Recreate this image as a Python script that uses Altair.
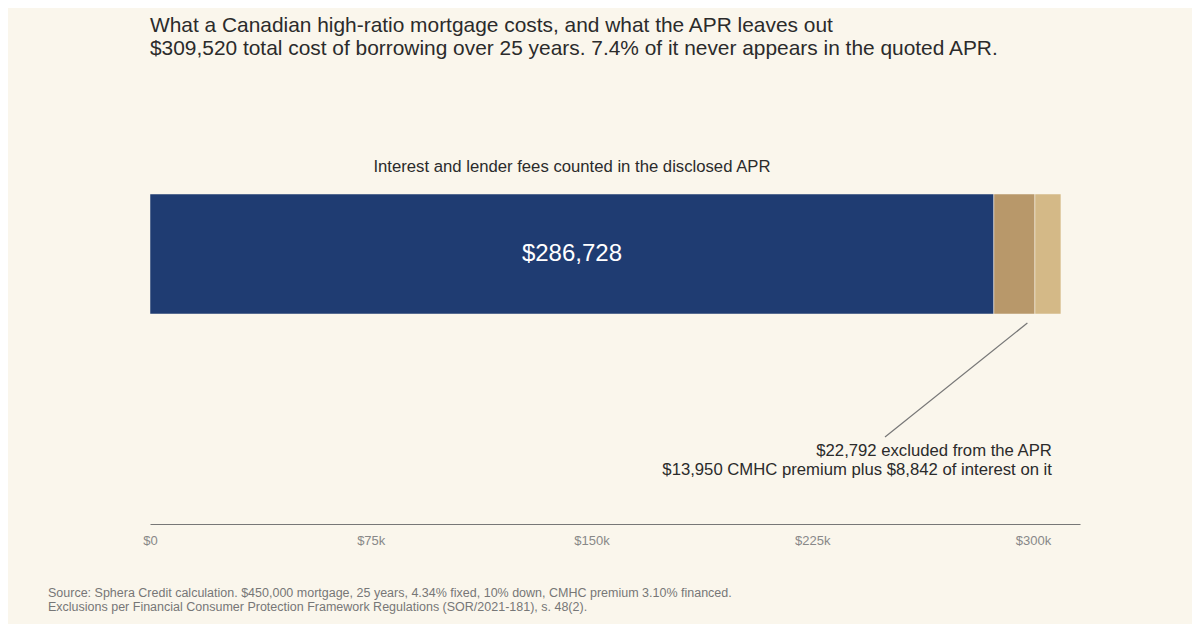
import pandas as pd
import altair as alt

# values
segments = ["Interest and lender fees", "CMHC premium", "Interest on the premium"]
amounts = [286728, 13950, 8842]
seg_colors = ["#1f3c72", "#b8986a", "#d4b987"]
tick_values = [0, 75000, 150000, 225000, 300000]

title_lines = [
    "What a Canadian high-ratio mortgage costs, and what the APR leaves out",
    "$309,520 total cost of borrowing over 25 years. 7.4% of it never appears in the quoted APR.",
]
apr_label = "Interest and lender fees counted in the disclosed APR"
excluded_lines = [
    "$22,792 excluded from the APR",
    "$13,950 CMHC premium plus $8,842 of interest on it",
]
source_lines = [
    "Source: Sphera Credit calculation. $450,000 mortgage, 25 years, 4.34% fixed, 10% down, CMHC premium 3.10% financed.",
    "Exclusions per Financial Consumer Protection Framework Regulations (SOR/2021-181), s. 48(2).",
]

BG = "#faf6ec"
INK = "#2b2b2b"
GREY = "#777777"

total = sum(amounts)
excluded_mid = amounts[0] + (amounts[1] + amounts[2]) / 2

bars = pd.DataFrame({
    "row": "cost",
    "segment": segments,
    "amount": amounts,
    "order": list(range(len(segments))),
})
navy_label = pd.DataFrame({"row": ["cost"], "x": [amounts[0] / 2], "value": [f"${amounts[0]:,}"]})
excl = pd.DataFrame({"row": ["cost"], "x": [total]})
leader = pd.DataFrame({"x": [excluded_mid]})
foot = pd.DataFrame({"k": [0]})

x_scale = alt.Scale(domain=[0, 316000], nice=False, zero=True)
# one band of 120px in a 360px tall plot, pushed towards the top
y_scale = alt.Scale(paddingInner=0, paddingOuter=1, align=0.125)

bar = alt.Chart(bars).mark_bar(stroke=BG, strokeWidth=0.5).encode(
    x=alt.X("amount:Q", stack="zero", scale=x_scale, title=None,
            axis=alt.Axis(values=tick_values, grid=False, ticks=False, tickSize=0,
                          labelFlush=False, labelPadding=10, labelFontSize=13,
                          labelColor="#888888", domainColor=GREY, domainWidth=1.2,
                          labelExpr="datum.value == 0 ? '$0' : '$' + datum.value / 1000 + 'k'")),
    y=alt.Y("row:N", scale=y_scale, axis=None),
    color=alt.Color("segment:N", scale=alt.Scale(domain=segments, range=seg_colors), legend=None),
    order=alt.Order("order:Q"),
)

value_text = alt.Chart(navy_label).mark_text(
    baseline="middle", fontSize=24, color="white"
).encode(x="x:Q", y="row:N", text="value:N")

apr_text = alt.Chart(navy_label).mark_text(
    baseline="alphabetic", fontSize=16.7, color=INK, dy=-82
).encode(x="x:Q", y="row:N", text=alt.value(apr_label))

excl_text = alt.Chart(excl).mark_text(
    align="right", baseline="alphabetic", fontSize=16.7, lineHeight=18.5, color=INK, dx=-9, dy=202
).encode(x="x:Q", y="row:N", text=alt.value(excluded_lines))

leader_line = alt.Chart(leader).mark_rule(color=GREY, strokeWidth=1.2).encode(
    x="x:Q", x2=alt.value(735), y=alt.value(159), y2=alt.value(273)
)

footer = alt.Chart(foot).mark_text(
    align="left", baseline="alphabetic", fontSize=12.5, lineHeight=14, color=GREY
).encode(x=alt.value(-102), y=alt.value(433), text=alt.value(source_lines))

chart = alt.layer(bar, value_text, apr_text, excl_text, leader_line, footer).properties(
    width=930,
    height=360,
    padding={"left": 142, "top": 156, "right": 112, "bottom": 100},
    autosize=alt.AutoSizeParams(type="none"),
    title=alt.TitleParams(text=title_lines, anchor="start", frame="group", fontSize=20.9,
                          lineHeight=23.5, offset=100, color=INK, fontWeight="normal"),
).configure(
    background=BG, font="Liberation Sans"
).configure_view(stroke=None)

chart.save("out.html", embed_options={"renderer": "svg", "actions": False})
